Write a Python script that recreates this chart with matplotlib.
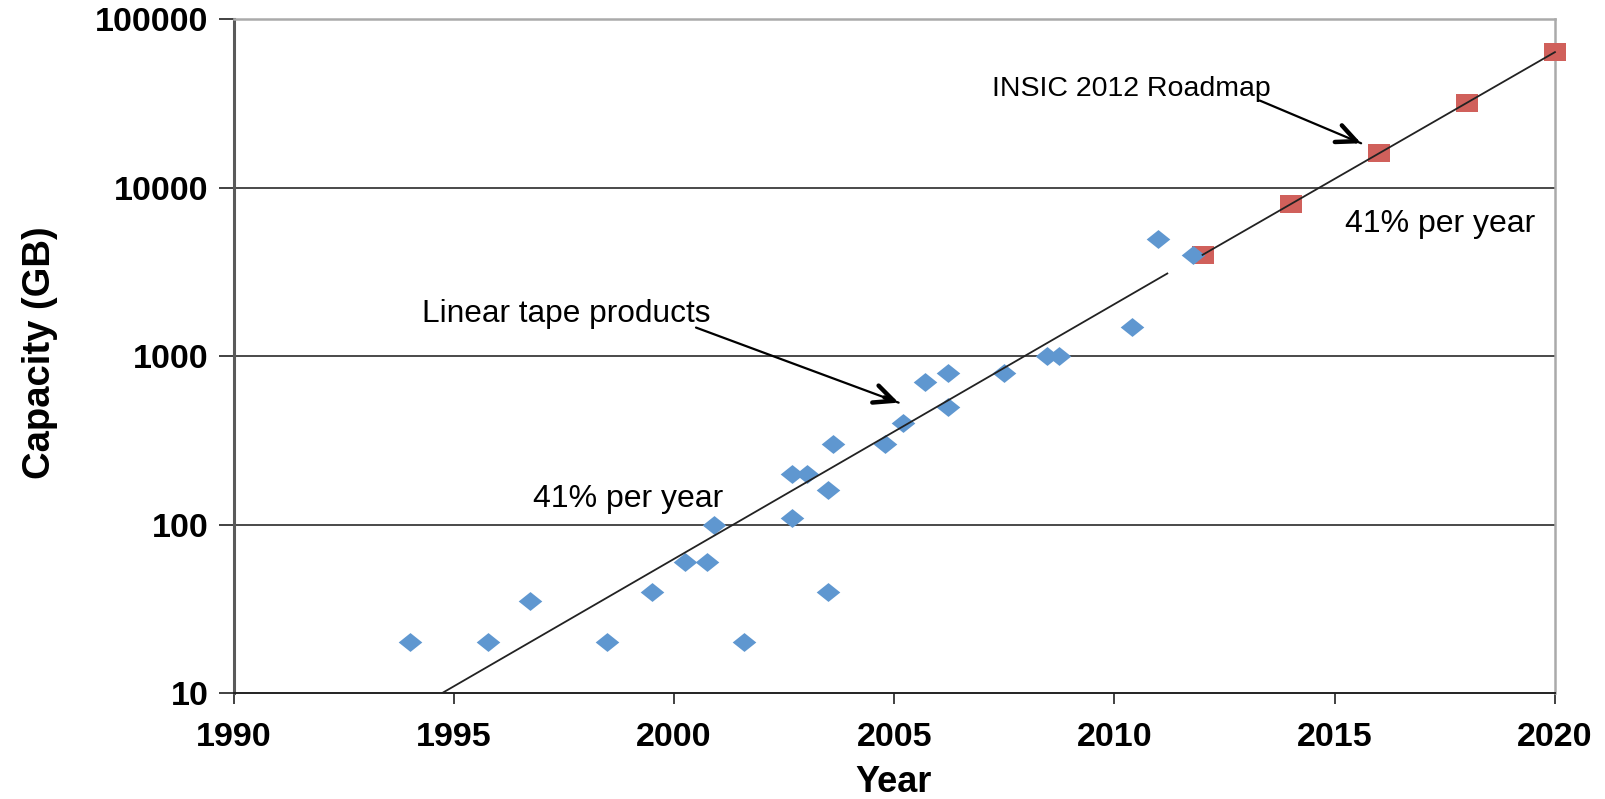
import matplotlib
matplotlib.use('Agg')
import math
import matplotlib.pyplot as plt
from matplotlib.ticker import FixedLocator, NullLocator, FixedFormatter

plt.rcParams['font.family'] = ['Liberation Sans', 'DejaVu Sans']

# linear tape products (year, capacity in GB)
tape_years = [1994.0, 1995.77, 1996.74, 1998.49, 1999.49, 2000.26, 2000.74, 2000.9,
              2001.6, 2002.67, 2003.02, 2002.67, 2003.49, 2003.6, 2003.49, 2004.79,
              2005.19, 2005.7, 2006.23, 2006.23, 2007.49, 2008.47, 2008.74, 2010.4,
              2010.98, 2011.79]
tape_cap = [20, 20, 35, 20, 40, 60, 60, 100,
            20, 200, 200, 110, 160, 300, 40, 300,
            400, 700, 800, 500, 800, 1000, 1000, 1500,
            5000, 4000]

# INSIC 2012 roadmap
roadmap_years = [2012, 2014, 2016, 2018, 2020]
roadmap_cap = [4000, 8000, 16000, 32000, 64000]

# 41% per year fit over the products (end points)
fit_years = [1994.74, 2011.2]
fit_cap = [10, 3100]

year_ticks = [1990, 1995, 2000, 2005, 2010, 2015, 2020]
cap_ticks = [10, 100, 1000, 10000, 100000]
cap_labels = ['10', '100', '1000', '10000', '100000']

blue = '#5F97D0'
red = '#D0605B'
diamond = [(-1, 0), (0, 0.8), (1, 0), (0, -0.8), (-1, 0)]
rect = [(-1, -0.78), (1, -0.78), (1, 0.78), (-1, 0.78), (-1, -0.78)]

fig = plt.figure(figsize=(16.06, 7.99), dpi=100)
ax = fig.add_axes([0.1454, 0.1327, 0.8228, 0.8429])

ax.set_yscale('log')
ax.set_xlim(1990, 2020)
ax.set_ylim(10, 100000)

for c in cap_ticks[1:-1]:
    ax.axhline(c, color='#3a3a3a', lw=1.3, zorder=1)

ax.plot(roadmap_years, roadmap_cap, linestyle='none', marker=rect, markersize=16.5,
        color=red, markeredgewidth=0, zorder=3, clip_on=False)
ax.plot(tape_years, tape_cap, linestyle='none', marker=diamond, markersize=17,
        color=blue, markeredgewidth=0, zorder=4, clip_on=False)
ax.plot(fit_years, fit_cap, color='#222222', lw=1.3, zorder=5)
ax.plot(roadmap_years, roadmap_cap, color='#222222', lw=1.3, zorder=5, clip_on=False)

ax.xaxis.set_major_locator(FixedLocator(year_ticks))
ax.xaxis.set_minor_locator(NullLocator())
ax.yaxis.set_major_locator(FixedLocator(cap_ticks))
ax.yaxis.set_major_formatter(FixedFormatter(cap_labels))
ax.yaxis.set_minor_locator(NullLocator())

ax.tick_params(axis='x', direction='out', length=8, width=1.3, color='#333333',
               pad=13, labelsize=24.5)
ax.tick_params(axis='y', direction='out', length=11, width=1.3, color='#333333',
               pad=7, labelsize=24.5)
for lab in ax.get_xticklabels() + ax.get_yticklabels():
    lab.set_fontweight('bold')

ax.spines['left'].set_color('#5a5a5a')
ax.spines['left'].set_linewidth(2.2)
ax.spines['bottom'].set_color('#222222')
ax.spines['bottom'].set_linewidth(1.4)
ax.spines['top'].set_color('#aaaaaa')
ax.spines['top'].set_linewidth(1.8)
ax.spines['right'].set_color('#aaaaaa')
ax.spines['right'].set_linewidth(1.8)

fig.text(40 / 1606, 1 - 353 / 799, 'Capacity (GB)', rotation=90, ha='center', va='center',
         fontsize=27.5, fontweight='bold')
fig.text(894 / 1606, 1 - 782 / 799, 'Year', ha='center', va='center',
         fontsize=26, fontweight='bold')

ax.text(1994.28, 1775, 'Linear tape products', fontsize=22.8, va='center', ha='left')
ax.text(1996.79, 141, '41% per year', fontsize=23, va='center', ha='left')
ax.text(2015.23, 6100, '41% per year', fontsize=23, va='center', ha='left')
ax.text(2007.21, 38600, 'INSIC 2012 Roadmap', fontsize=20.5, va='center', ha='left',
        family=['Liberation Sans Narrow', 'Liberation Sans'])


def pointer(start, end):
    # thin shaft plus a heavier open head, like the drawn arrows in the original
    ax.annotate('', xy=end, xytext=start, zorder=6,
                arrowprops=dict(arrowstyle='-', color='black', lw=1.6,
                                shrinkA=0, shrinkB=0))
    t = 0.93
    ly0, ly1 = math.log10(start[1]), math.log10(end[1])
    back = (start[0] + t * (end[0] - start[0]), 10 ** (ly0 + t * (ly1 - ly0)))
    ax.annotate('', xy=end, xytext=back, zorder=6,
                arrowprops=dict(arrowstyle='->,head_length=1.4,head_width=0.65',
                                color='black', lw=3.2, shrinkA=0, shrinkB=0,
                                joinstyle='round', capstyle='round'))


pointer((2000.5, 1480), (2005.1, 530))
pointer((2013.3, 33000), (2015.6, 18400))

fig.savefig('out.png', dpi=100)
plt.close(fig)
